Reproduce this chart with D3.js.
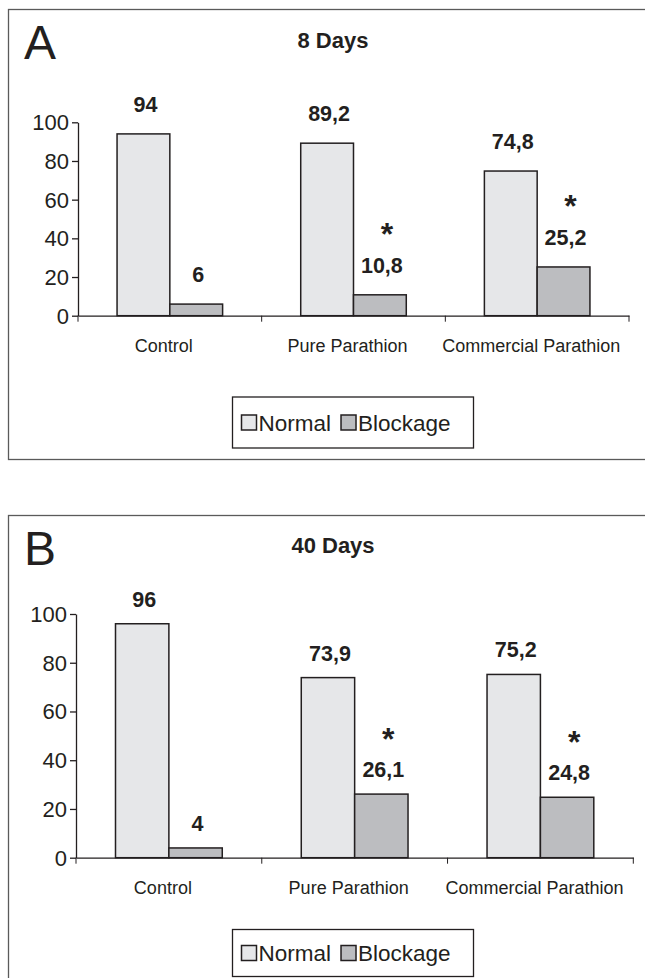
<!DOCTYPE html>
<html>
<head>
<meta charset="utf-8">
<script src="https://cdn.jsdelivr.net/npm/d3@7"></script>
<style>
  body { margin: 0; background: #fff; overflow: hidden; }
  svg { display: block; font-family: "Liberation Sans", Arial, sans-serif; }
</style>
</head>
<body>
<script>
// data
const categories = ["Control", "Pure Parathion", "Commercial Parathion"];
const series = ["Normal", "Blockage"];
const yTicks = [0, 20, 40, 60, 80, 100];

const normal8 = [94, 89.2, 74.8];
const blockage8 = [6, 10.8, 25.2];
const signif8 = [false, true, true];

const normal40 = [96, 73.9, 75.2];
const blockage40 = [4, 26.1, 24.8];
const signif40 = [false, true, true];

const colors = { Normal: "#e6e7e9", Blockage: "#bcbdc0" };
const ink = "#231f20";

// comma as decimal mark
const fmt = d3.formatLocale({ decimal: ",", thousands: ".", grouping: [3], currency: ["", ""] }).format("~f");

function drawPanel(svg, cfg, normal, blockage, signif) {
  const g = svg.append("g");

  // panel frame (runs off the right / bottom of the picture)
  g.append("rect")
    .attr("x", 8.5).attr("y", cfg.top + 0.5)
    .attr("width", 700).attr("height", cfg.frameH)
    .attr("fill", "none").attr("stroke", "#5a5a5a").attr("stroke-width", 1.3);

  g.append("text")
    .attr("x", 24).attr("y", cfg.top + 49.5)
    .style("font-size", "48px").attr("fill", ink)
    .text(cfg.letter);

  g.append("text")
    .attr("x", 333).attr("y", cfg.titleY)
    .attr("text-anchor", "middle")
    .style("font-size", "22px").style("font-weight", "bold").attr("fill", ink)
    .text(cfg.title);

  const x = d3.scaleBand().domain(categories).range([cfg.x0, cfg.x1]);
  const xs = d3.scaleBand().domain(series).range([0, x.bandwidth()]).paddingOuter(0.74);
  const y = d3.scaleLinear().domain([0, 100]).range([cfg.y0, cfg.y100]);

  const rows = categories.map((c, i) => ({
    cat: c, Normal: normal[i], Blockage: blockage[i], sig: signif[i]
  }));

  // bars
  const groups = g.selectAll("g.cat")
    .data(rows)
    .enter().append("g")
    .attr("class", "cat")
    .attr("transform", d => "translate(" + x(d.cat) + ",0)");

  groups.selectAll("rect")
    .data(d => series.map(s => ({ s: s, v: d[s] })))
    .enter().append("rect")
    .attr("x", d => xs(d.s))
    .attr("y", d => y(d.v))
    .attr("width", xs.bandwidth())
    .attr("height", d => y(0) - y(d.v))
    .attr("fill", d => colors[d.s])
    .attr("stroke", ink).attr("stroke-width", 1.5);

  // value labels
  groups.selectAll("text.val")
    .data(d => series.map(s => ({ s: s, v: d[s] })))
    .enter().append("text")
    .attr("class", "val")
    .attr("x", d => xs(d.s) + xs.bandwidth() / 2 + 2)
    .attr("y", d => y(d.v) - cfg.labelGap)
    .attr("text-anchor", "middle")
    .style("font-size", "21.5px").style("font-weight", "bold").attr("fill", ink)
    .text(d => fmt(d.v));

  // significance stars over the blockage labels
  groups.filter(d => d.sig)
    .append("text")
    .attr("x", xs("Blockage") + xs.bandwidth() / 2 + 7)
    .attr("y", d => y(d.Blockage) - cfg.labelGap - 27.5)
    .attr("text-anchor", "middle")
    .style("font-size", "32px").style("font-weight", "bold").attr("fill", ink)
    .text("*");

  // y axis
  const yAxis = d3.axisLeft(y).tickValues(yTicks).tickSize(6).tickSizeOuter(0).tickPadding(3);
  const gY = g.append("g")
    .attr("transform", "translate(" + cfg.x0 + ",0)")
    .call(yAxis);
  gY.selectAll("text").style("font-size", "22px").attr("fill", ink).attr("dy", "0.34em");

  // x axis
  const xAxis = d3.axisBottom(x).tickSize(0).tickSizeOuter(0).tickPadding(24);
  const gX = g.append("g")
    .attr("transform", "translate(0," + cfg.y0 + ")")
    .call(xAxis);
  gX.selectAll("text").style("font-size", "18px").attr("fill", ink).attr("dx", "-6");
  gX.selectAll(".bound")
    .data(categories.map(c => x(c)).concat([cfg.x1]))
    .enter().append("line")
    .attr("class", "bound")
    .attr("x1", d => d).attr("x2", d => d)
    .attr("y1", 0).attr("y2", 6)
    .attr("stroke", ink);
  g.selectAll(".domain, .tick line").attr("stroke", ink).attr("stroke-width", 1.3);

  // legend
  const lg = g.append("g").attr("transform", "translate(232.5," + cfg.legendY + ")");
  lg.append("rect")
    .attr("width", 241).attr("height", cfg.legendH)
    .attr("fill", "#fff").attr("stroke", ink).attr("stroke-width", 1.3);
  let lx = 9;
  series.forEach(s => {
    lg.append("rect")
      .attr("x", lx).attr("y", cfg.legendH / 2 - 7.5)
      .attr("width", 15).attr("height", 15)
      .attr("fill", colors[s]).attr("stroke", ink).attr("stroke-width", 1.5);
    const t = lg.append("text")
      .attr("x", lx + 17).attr("y", cfg.legendH / 2 + 8)
      .style("font-size", "22.5px").attr("fill", ink)
      .text(s);
    lx += 17 + t.node().getComputedTextLength() + 10;
  });
}

function main() {
  const svg = d3.select("body").append("svg")
    .attr("width", 645).attr("height", 978);

  drawPanel(svg, {
    top: 9, frameH: 450, letter: "A", title: "8 Days", titleY: 48,
    x0: 78, x1: 629, y0: 315.7, y100: 122.3, labelGap: 22,
    legendY: 397, legendH: 51
  }, normal8, blockage8, signif8);

  drawPanel(svg, {
    top: 515, frameH: 600, letter: "B", title: "40 Days", titleY: 553,
    x0: 76, x1: 633.3, y0: 857.7, y100: 614, labelGap: 17,
    legendY: 929.5, legendH: 47
  }, normal40, blockage40, signif40);
}

main();
</script>
</body>
</html>
